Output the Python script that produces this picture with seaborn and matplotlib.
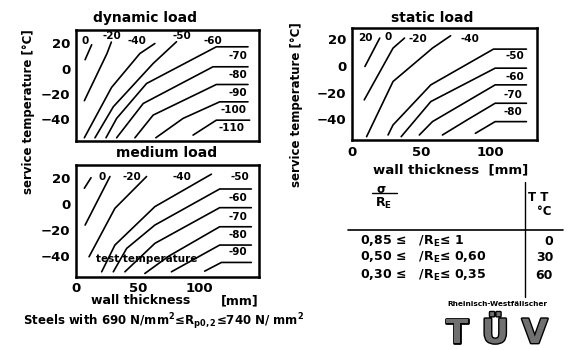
import pandas as pd
import matplotlib
matplotlib.use("Agg")
import matplotlib.pyplot as plt
import matplotlib.patheffects as pe
from matplotlib.lines import Line2D
import seaborn as sns

# Curves: x = wall thickness [mm], y = service temperature [°C]
# dynamic load
dyn_x = [
    [7.3, 12.6],
    [6.7, 25.0, 28.5],
    [6.7, 28.7, 51.6, 63.7],
    [15.3, 30.1, 62.3, 81.2],
    [24.2, 32.8, 57.0, 113.4, 139.0],
    [32.8, 54.3, 110.7, 139.0],
    [47.6, 62.3, 113.4, 139.0],
    [64.5, 86.5, 116.1, 139.0],
    [94.6, 113.4, 140.3],
]
dyn_y = [
    [7.1, 18.9],
    [-25.3, 12.0, 21.0],
    [-54.6, -14.8, 12.0, 19.9],
    [-54.6, -30.1, 4.1, 21.3],
    [-54.6, -39.3, -11.7, 17.3, 17.3],
    [-54.6, -27.5, 1.5, 1.5],
    [-54.6, -36.7, -12.5, -12.5],
    [-54.6, -39.3, -26.2, -26.2],
    [-52.5, -40.7, -40.7],
]
dyn_labels = ["0", "-20", "-40", "-50", "-60", "-70", "-80", "-90", "-100", "-110"]
dyn_label_x = [7.3, 28.8, 48.9, 85.2, 110.7, 130.9, 130.9, 130.9, 126.9, 125.5]
dyn_label_y = [22.1, 25.5, 22.1, 25.5, 22.1, 9.7, -4.8, -19.3, -32.5, -46.9]

# medium load
med_x = [
    [6.7, 12.1],
    [7.3, 27.4],
    [10.5, 31.4, 57.0],
    [20.7, 31.4, 63.7, 109.4],
    [30.1, 40.9, 63.7, 116.1, 141.7],
    [39.5, 63.7, 116.1, 141.7],
    [55.6, 75.0, 116.1, 141.7],
    [77.1, 116.1, 141.7],
    [104.0, 117.5, 141.7],
]
med_y = [
    [12.3, 20.4],
    [-16.1, 21.3],
    [-40.5, -3.2, 21.3],
    [-52.1, -31.5, -1.9, 23.1],
    [-52.1, -34.1, -16.1, 11.7, 11.7],
    [-52.1, -30.2, -2.7, -2.7],
    [-53.4, -40.0, -17.4, -17.4],
    [-52.1, -31.5, -31.5],
    [-51.6, -44.9, -44.9],
]
med_labels = ["0", "-20", "-40", "-50", "-60", "-70", "-80", "-90"]
med_label_x = [21.2, 44.9, 85.2, 132.3, 130.9, 130.9, 130.9, 130.9]
med_label_y = [21.3, 21.3, 21.3, 21.3, 4.5, -9.6, -23.8, -37.2]

# static load
sta_x = [
    [9.5, 20.2],
    [9.0, 29.8, 38.1],
    [10.7, 29.8, 58.3, 71.4],
    [26.2, 29.8, 57.1, 102.4, 126.2],
    [35.7, 57.1, 103.6, 126.2],
    [48.8, 58.3, 103.6, 126.2],
    [65.5, 83.3, 103.6, 126.2],
    [89.3, 103.6, 126.2],
]
sta_y = [
    [-0.5, 20.75],
    [-25.5, 13.25, 20.75],
    [-53.0, -11.75, 13.25, 22.5],
    [-51.75, -44.25, -14.25, 12.5, 12.5],
    [-53.0, -26.75, -1.75, -1.75],
    [-51.75, -41.75, -14.25, -14.25],
    [-51.75, -40.5, -28.0, -28.0],
    [-50.5, -41.75, -41.75],
]
sta_labels = ["20", "0", "-20", "-40", "-50", "-60", "-70", "-80"]
sta_label_x = [9.5, 26.2, 47.6, 85.7, 117.9, 117.9, 116.7, 116.7]
sta_label_y = [20.7, 21.2, 20.2, 20.2, 7.0, -8.0, -21.8, -34.8]

y_ticks = [20, 0, -20, -40]
x_ticks = [0, 50, 100]

# table: sigma/RE ranges and test temperatures
table_ranges = ["0,85 \u2264   /R$_E$\u2264 1",
                "0,50 \u2264   /R$_E$\u2264 0,60",
                "0,30 \u2264   /R$_E$\u2264 0,35"]
table_temps = ["0", "30", "60"]

sns.set_style("white")
plt.rcParams["font.family"] = ["DejaVu Sans"]
plt.rcParams["font.weight"] = "bold"
plt.rcParams["mathtext.default"] = "bf"
plt.rcParams["text.color"] = "black"
plt.rcParams["xtick.color"] = "black"
plt.rcParams["ytick.color"] = "black"


def draw_panel(ax, xs, ys, labels, lab_x, lab_y, xlim, ylim, show_x):
    rows = []
    for i, (cx, cy) in enumerate(zip(xs, ys)):
        for a, b in zip(cx, cy):
            rows.append({"curve": i, "x": a, "y": b})
    df = pd.DataFrame(rows)
    sns.lineplot(data=df, x="x", y="y", units="curve", estimator=None,
                 sort=False, color="black", lw=1.2, legend=False, ax=ax)
    for t, lx, ly in zip(labels, lab_x, lab_y):
        ax.text(lx, ly, t, ha="center", va="center", fontsize=7.5,
                fontweight="bold")
    ax.set_xlim(*xlim)
    ax.set_ylim(*ylim)
    ax.set_yticks(y_ticks)
    ax.set_xticks(x_ticks)
    ax.set_xlabel("")
    ax.set_ylabel("")
    ax.tick_params(direction="in", length=2, width=1, labelsize=9.5, pad=4,
                   colors="black")
    if not show_x:
        ax.set_xticklabels([])
    for s in ax.spines.values():
        s.set_linewidth(1.8)
        s.set_color("black")


fig = plt.figure(figsize=(5.72, 3.5), dpi=100)
ax_dyn = fig.add_axes([0.133, 0.597, 0.320, 0.317])
ax_med = fig.add_axes([0.133, 0.209, 0.320, 0.320])
ax_sta = fig.add_axes([0.615, 0.600, 0.323, 0.320])

draw_panel(ax_dyn, dyn_x, dyn_y, dyn_labels, dyn_label_x, dyn_label_y,
           (0, 148), (-57.2, 30.5), False)
draw_panel(ax_med, med_x, med_y, med_labels, med_label_x, med_label_y,
           (0, 148), (-56.0, 30.3), True)
draw_panel(ax_sta, sta_x, sta_y, sta_labels, sta_label_x, sta_label_y,
           (1.2, 133.5), (-55.5, 28.3), True)
ax_med.text(57, -42.3, "test temperature", ha="center", va="center",
            fontsize=7.5, fontweight="bold")

# titles and axis texts
fig.text(0.254, 0.949, "dynamic load", ha="center", va="center", fontsize=10)
fig.text(0.292, 0.563, "medium load", ha="center", va="center", fontsize=10)
fig.text(0.755, 0.949, "static load", ha="center", va="center", fontsize=10)
fig.text(0.049, 0.68, "service temperature [\u00b0C]", rotation=90,
         ha="center", va="center", fontsize=8.5)
fig.text(0.519, 0.70, "service temperature [\u00b0C]", rotation=90,
         ha="center", va="center", fontsize=8.5)
fig.text(0.245, 0.141, "wall thickness", ha="center", va="center", fontsize=9)
fig.text(0.42, 0.141, "[mm]", ha="center", va="center", fontsize=9)
fig.text(0.787, 0.514, "wall thickness  [mm]", ha="center", va="center",
         fontsize=9.5)
fig.text(0.04, 0.082,
         "Steels with 690 N/mm$^2$\u2264R$_{p0,2}$\u2264740 N/ mm$^2$",
         ha="left", va="center", fontsize=8.5)

# table
fig.text(0.666, 0.458, "\u03c3", ha="center", va="center", fontsize=8.5)
fig.add_artist(Line2D([0.651, 0.694], [0.449, 0.449], color="black", lw=1))
fig.text(0.671, 0.42, "R$_E$", ha="center", va="center", fontsize=9)
fig.text(0.941, 0.437, "T T", ha="center", va="center", fontsize=8.5)
fig.text(0.951, 0.397, "\u00b0C", ha="center", va="center", fontsize=8.5)
fig.add_artist(Line2D([0.918, 0.918], [0.151, 0.48], color="black", lw=1))
fig.add_artist(Line2D([0.608, 0.984], [0.343, 0.343], color="black", lw=1.2))
for i, (r, t) in enumerate(zip(table_ranges, table_temps)):
    yy = [0.309, 0.265, 0.212][i]
    fig.text(0.629, yy, r, ha="left", va="center", fontsize=9)
    fig.text(0.967, yy, t, ha="right", va="center", fontsize=9)

# TUV mark
fig.text(0.870, 0.132, "Rheinisch-Westf\u00e4lischer", ha="center",
         va="center", fontsize=5.3)
for letter, lx in zip(["T", "\u00dc", "V"], [0.799, 0.866, 0.935]):
    fig.text(lx, 0.02, letter, ha="center", va="baseline", fontsize=24,
             fontweight="heavy", color="#707070",
             path_effects=[pe.withStroke(linewidth=2, foreground="black")])

fig.savefig("out.png", dpi=100)
